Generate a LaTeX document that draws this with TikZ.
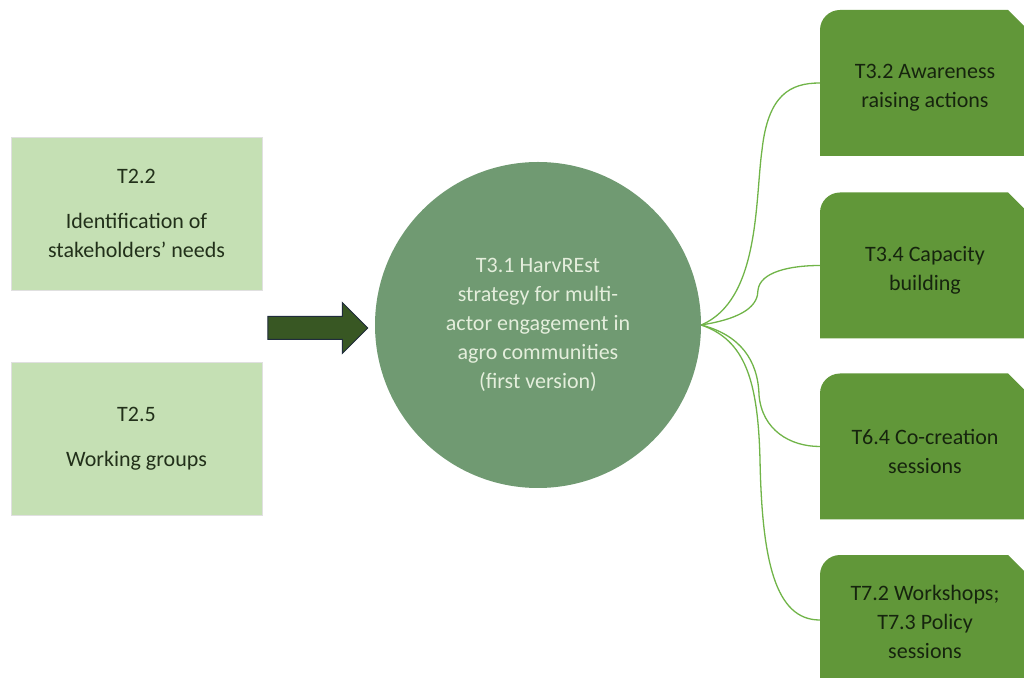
\documentclass[tikz,border=0pt]{standalone}
\usepackage{fontspec}
\setmainfont{Carlito}
\usetikzlibrary{shapes.arrows}

\definecolor{lfill}{RGB}{197,224,180}
\definecolor{ltext}{RGB}{34,48,26}
\definecolor{hubfill}{RGB}{112,154,114}
\definecolor{hubtext}{RGB}{228,238,220}
\definecolor{rfill}{RGB}{97,151,57}
\definecolor{rtext}{RGB}{22,36,14}
\definecolor{linkgreen}{RGB}{112,180,72}
\definecolor{arrfill}{RGB}{56,87,35}
\definecolor{arrdraw}{RGB}{32,44,60}

\begin{document}
\begin{tikzpicture}[
		x=1pt,y=1pt,
		every node/.style={font=\fontsize{22}{29}\selectfont},
		lbox/.style ={rectangle,draw=black!12,fill=lfill,text=ltext,align=center,
			minimum width=251pt,minimum height=153pt,inner sep=0pt},
		rbox/.style ={rectangle,minimum width=210pt,minimum height=146pt,inner sep=0pt,
			path picture={\fill[rfill]
				(path picture bounding box.south west)
				-- ([yshift=-20pt]path picture bounding box.north west)
				arc[start angle=180,end angle=90,radius=20pt]
				-- ([xshift=-22pt]path picture bounding box.north east)
				-- ([yshift=-22pt]path picture bounding box.north east)
				-- (path picture bounding box.south east) -- cycle;}},
		rtxt/.style ={align=center,text=rtext,yshift=-5pt,inner sep=0pt},
		hub/.style  ={circle,fill=hubfill,text=hubtext,align=center,minimum size=326pt,inner sep=0pt},
		push/.style ={single arrow,draw=arrdraw,line width=1pt,fill=arrfill,
			minimum height=100pt,minimum width=50pt,single arrow head extend=14pt,
			inner xsep=0pt,inner ysep=11pt,text height=0pt,text depth=0pt},
		link/.style ={draw=linkgreen,line width=1.3pt}
		]

		\clip (0,0) rectangle (1024,677);

		% ---- inputs (WP2) ----
		\node[lbox] (t22) at (136.5,463.5) {T2.2\\[16pt]Identification of\\stakeholders’ needs};
		\node[lbox] (t25) at (136.5,238)   {T2.5\\[16pt]Working groups};

		% ---- block arrow ----
		\node[push] (feed) at (312,349) {};

		% ---- central strategy ----
		\node[hub] (hub) at (538,352)
			{T3.1 HarvREst\\strategy for multi-\\actor engagement in\\agro communities\\(first version)};

		% ---- outputs (text set a bit below centre) ----
		\node[rbox,label={[rtxt]center:T3.2 Awareness\\raising actions}] (t32) at (925,594) {};
		\node[rbox,label={[rtxt]center:T3.4 Capacity\\building}] (t34) at (925,411.5) {};
		\node[rbox,label={[rtxt]center:T6.4 Co-creation\\sessions}] (t64) at (925,230.5) {};
		\node[rbox,minimum height=130pt,label={[rtxt,yshift=3pt]center:T7.2 Workshops;\\T7.3 Policy\\sessions}]
			(t72) at (925,57) {};

		% ---- hub -> outputs ----
		\draw[link] (hub.east) .. controls (760,377) and (755,477) .. (762,527)
			.. controls (768,582) and (790,594) .. (t32.west);
		\draw[link] (hub.east) .. controls (745,359) and (758,372) .. (758,387)
			.. controls (760,405) and (790,411.5) .. (t34.west);
		\draw[link] (hub.east) .. controls (740,342) and (758,317) .. (759,282)
			.. controls (762,247) and (790,230.5) .. (t64.west);
		\draw[link] (hub.east) .. controls (745,337) and (758,297) .. (760,217)
			.. controls (762,117) and (775,57) .. (t72.west);

	\end{tikzpicture}
\end{document}
